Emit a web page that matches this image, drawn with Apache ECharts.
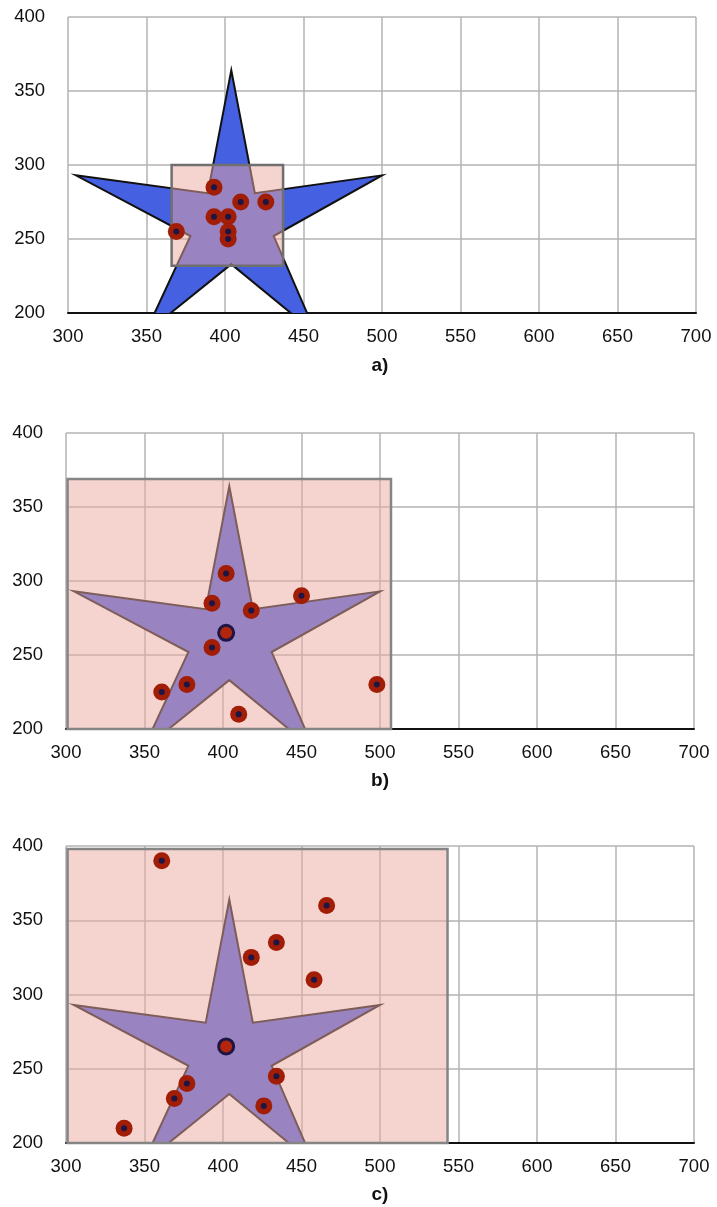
<!DOCTYPE html>
<html>
<head>
<meta charset="utf-8">
<script src="https://cdn.jsdelivr.net/npm/echarts@6/dist/echarts.min.js"></script>
<style>
  html, body { margin: 0; padding: 0; background: #fff; }
  #chart { width: 717px; height: 1207px; }
</style>
</head>
<body>
<div id="chart"></div>
<script>
// Axis ranges shared by the three panels
const xRange = [300, 700];
const yRange = [200, 400];
const tickStep = 50;

// Panel captions
const panelLabels = ['a)', 'b)', 'c)'];

// Star outline vertices (x, y), clockwise from the top tip
const starOutline = [
  [404, 364], [419, 281], [500, 293], [431, 252], [458, 186],
  [404, 233], [349, 186], [378, 252], [305, 293], [389, 281]
];

// Bounding rectangles per panel: [x1, y1, x2, y2]
const rectA = [366, 232, 437, 300];
const rectB = [301, 200, 507, 369];
const rectC = [301, 200, 543, 398];

// Sample points per panel
const pointsA = [[393, 285], [410, 275], [426, 275], [393, 265], [402, 265], [402, 255], [402, 250], [369, 255]];
const pointsB = [[402, 305], [393, 285], [418, 280], [450, 290], [393, 255], [377, 230], [361, 225], [410, 210], [498, 230]];
const pointsC = [[361, 390], [466, 360], [434, 335], [418, 325], [458, 310], [434, 245], [377, 240], [369, 230], [426, 225], [337, 210]];

// Highlighted centre point (panels b and c)
const centreB = [[402, 265]];
const centreC = [[402, 265]];

const grids = [
  { left: 68, top: 17, width: 628, height: 296 },
  { left: 66, top: 433, width: 628, height: 296 },
  { left: 66, top: 846, width: 628, height: 297 }
];

const font = 'Liberation Sans, Arial, Helvetica, sans-serif';

function xAxis(i) {
  return {
    type: 'value', gridIndex: i, min: xRange[0], max: xRange[1], interval: tickStep,
    axisLine: { show: true, onZero: false, lineStyle: { color: '#111', width: 2 } },
    axisTick: { show: false },
    splitLine: { show: true, lineStyle: { color: '#b3b3b3', width: 1.5 } },
    axisLabel: { color: '#111', fontSize: 18.5, fontFamily: font, margin: 14 }
  };
}
function yAxis(i) {
  return {
    type: 'value', gridIndex: i, min: yRange[0], max: yRange[1], interval: tickStep,
    axisLine: { show: false },
    axisTick: { show: false },
    splitLine: { show: true, lineStyle: { color: '#b3b3b3', width: 1.5 } },
    axisLabel: { color: '#111', fontSize: 18.5, fontFamily: font, margin: 23 }
  };
}

function starSeries(i) {
  return {
    type: 'custom', xAxisIndex: i, yAxisIndex: i, z: 2, silent: true, clip: true,
    data: starOutline, encode: { x: 0, y: 1 },
    renderItem(params, api) {
      if (params.dataIndex !== 0) return;
      const pts = starOutline.map(p => api.coord(p));
      return {
        type: 'polygon', shape: { points: pts },
        style: { fill: '#4660e2', stroke: '#111', lineWidth: 2, lineJoin: 'miter' }
      };
    }
  };
}

function rectSeries(i, r, stroke) {
  return {
    type: 'custom', xAxisIndex: i, yAxisIndex: i, z: 3, silent: true,
    data: [r],
    renderItem(params, api) {
      const p1 = api.coord([api.value(0), api.value(1)]);
      const p2 = api.coord([api.value(2), api.value(3)]);
      return {
        type: 'rect',
        shape: { x: Math.min(p1[0], p2[0]), y: Math.min(p1[1], p2[1]), width: Math.abs(p2[0] - p1[0]), height: Math.abs(p2[1] - p1[1]) },
        style: { fill: 'rgba(235,168,160,0.5)', stroke: stroke, lineWidth: 2.5 }
      };
    }
  };
}

function pointSeries(i, pts) {
  return [
    {
      type: 'scatter', xAxisIndex: i, yAxisIndex: i, z: 5, silent: true, data: pts,
      symbol: 'circle', symbolSize: 17, itemStyle: { color: '#a11d06', opacity: 1 }
    },
    {
      type: 'scatter', xAxisIndex: i, yAxisIndex: i, z: 6, silent: true, data: pts,
      symbol: 'circle', symbolSize: 6, itemStyle: { color: '#1d1544', opacity: 1 }
    }
  ];
}

function centreSeries(i, pts) {
  return {
    type: 'scatter', xAxisIndex: i, yAxisIndex: i, z: 7, silent: true, data: pts,
    symbol: 'circle', symbolSize: 15,
    itemStyle: { color: '#b3260c', borderColor: '#1d1544', borderWidth: 3, opacity: 1 }
  };
}

const series = [
  starSeries(0), rectSeries(0, rectA, '#6f6f6f'), ...pointSeries(0, pointsA),
  starSeries(1), rectSeries(1, rectB, '#858585'), ...pointSeries(1, pointsB), centreSeries(1, centreB),
  starSeries(2), rectSeries(2, rectC, '#858585'), ...pointSeries(2, pointsC), centreSeries(2, centreC)
];

const captionY = [366, 781, 1195];

const chart = echarts.init(document.getElementById('chart'), null, { renderer: 'canvas' });
chart.setOption({
  backgroundColor: '#ffffff',
  animation: false,
  grid: grids,
  xAxis: [0, 1, 2].map(xAxis),
  yAxis: [0, 1, 2].map(yAxis),
  series: series,
  graphic: panelLabels.map((t, i) => ({
    type: 'text', x: 380, y: captionY[i],
    style: { text: t, fontSize: 19, fontWeight: 'bold', fontFamily: font, fill: '#111', align: 'center', verticalAlign: 'middle' }
  }))
});
</script>
</body>
</html>
